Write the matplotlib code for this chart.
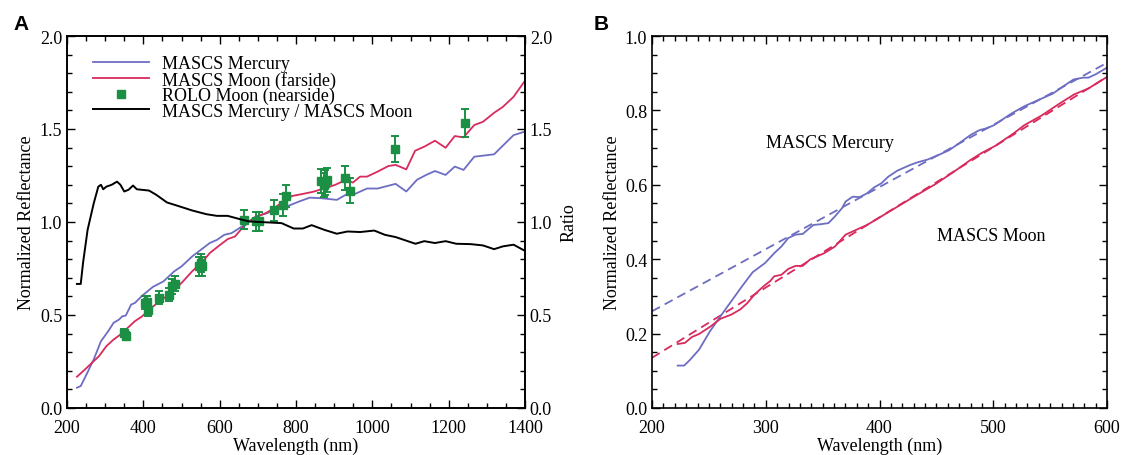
import numpy as np
import matplotlib
matplotlib.use("Agg")
import matplotlib.pyplot as plt
from matplotlib.ticker import MultipleLocator
from matplotlib.lines import Line2D

plt.rcParams['font.family'] = ['Liberation Serif', 'DejaVu Serif']
plt.rcParams['mathtext.fontset'] = 'stix'

# ---------------- Panel A data ----------------
ratio_wl = [226, 236, 242, 254, 270, 282, 289, 295, 303, 317, 331, 340, 350, 361, 373, 383,
            415, 434, 462, 490, 528, 565, 593, 621, 659, 677, 734, 762, 794, 818, 841, 874,
            907, 935, 968, 1005, 1033, 1061, 1113, 1136, 1164, 1192, 1220, 1258, 1290, 1319,
            1342, 1370, 1398]
ratio_val = [0.667, 0.667, 0.78, 0.958, 1.10, 1.19, 1.20, 1.176, 1.19, 1.20, 1.217, 1.20, 1.164,
             1.173, 1.196, 1.176, 1.169, 1.146, 1.105, 1.087, 1.062, 1.042, 1.033, 1.033, 1.012,
             1.003, 0.997, 0.994, 0.965, 0.965, 0.983, 0.958, 0.937, 0.949, 0.946, 0.954, 0.931,
             0.919, 0.883, 0.897, 0.887, 0.897, 0.883, 0.881, 0.874, 0.854, 0.869, 0.878, 0.847]

merc_wl = [226, 236, 251, 270, 289, 308, 322, 336, 345, 354, 368, 378, 397, 425, 453, 481, 500,
           528, 551, 574, 593, 612, 631, 645, 668, 696, 724, 748, 780, 808, 836, 865, 907, 930,
           949, 986, 1014, 1061, 1089, 1117, 1141, 1164, 1192, 1216, 1239, 1267, 1319, 1370, 1398]
merc_val = [0.109, 0.118, 0.18, 0.261, 0.359, 0.413, 0.458, 0.475, 0.493, 0.497, 0.556, 0.565,
            0.604, 0.651, 0.681, 0.735, 0.761, 0.815, 0.851, 0.887, 0.904, 0.931, 0.940, 0.958,
            0.990, 1.030, 1.047, 1.074, 1.087, 1.110, 1.131, 1.128, 1.119, 1.146, 1.146, 1.180,
            1.180, 1.205, 1.164, 1.227, 1.253, 1.274, 1.253, 1.298, 1.280, 1.351, 1.364, 1.467,
            1.485]

moon_wl = [226, 247, 270, 284, 303, 322, 340, 359, 378, 397, 415, 443, 472, 500, 528, 556, 574,
           598, 621, 640, 659, 677, 696, 720, 743, 771, 790, 818, 846, 874, 902, 930, 949, 968,
           986, 1014, 1042, 1061, 1089, 1112, 1136, 1164, 1192, 1216, 1239, 1267, 1290, 1319,
           1342, 1370, 1398]
moon_val = [0.168, 0.207, 0.252, 0.279, 0.332, 0.368, 0.395, 0.431, 0.467, 0.493, 0.529, 0.574,
            0.618, 0.672, 0.735, 0.788, 0.833, 0.872, 0.908, 0.922, 0.967, 1.003, 1.030, 1.047,
            1.074, 1.119, 1.140, 1.151, 1.163, 1.181, 1.199, 1.226, 1.212, 1.244, 1.244, 1.271,
            1.301, 1.307, 1.283, 1.383, 1.405, 1.437, 1.399, 1.462, 1.455, 1.521, 1.539, 1.587,
            1.619, 1.673, 1.754]

rolo_wl = [350, 355, 404, 410, 413, 441, 467, 475, 484, 546, 551, 554, 664, 694, 703, 743, 765,
           774, 866, 874, 877, 881, 928, 941, 1060, 1242]
rolo_val = [0.404, 0.386, 0.565, 0.568, 0.529, 0.592, 0.610, 0.654, 0.668, 0.761, 0.779, 0.761,
            1.012, 1.003, 1.003, 1.062, 1.092, 1.140, 1.221, 1.199, 1.212, 1.226, 1.235, 1.169,
            1.392, 1.534]
rolo_err = [0.02, 0.02, 0.035, 0.035, 0.035, 0.035, 0.035, 0.04, 0.04, 0.05, 0.05, 0.05,
            0.05, 0.05, 0.05, 0.055, 0.06, 0.06, 0.065, 0.065, 0.065, 0.065, 0.065, 0.065,
            0.07, 0.075]

# ---------------- Panel B data ----------------
bmerc_wl = [222.6, 228.3, 233.6, 241.4, 250.9, 260.3, 269.7, 279.1, 288.5, 299.5, 307.4, 313.7,
            319.9, 326.2, 332.5, 341.9, 348.2, 355.1, 360.8, 367.0, 370.2, 376.4, 382.7, 389.0,
            395.3, 401.6, 407.8, 415.7, 426.7, 433.0, 442.4, 451.8, 461.2, 470.6, 480.1, 487.9,
            494.2, 500.5, 508.3, 516.2, 527.2, 539.7, 552.3, 561.7, 570.5, 578.9, 583.7, 590.0,
            600.0]
bmerc_val = [0.114, 0.114, 0.130, 0.157, 0.206, 0.247, 0.287, 0.327, 0.365, 0.390, 0.416, 0.434,
             0.457, 0.466, 0.468, 0.492, 0.494, 0.497, 0.515, 0.537, 0.555, 0.568, 0.567, 0.577,
             0.593, 0.604, 0.622, 0.638, 0.653, 0.660, 0.668, 0.680, 0.693, 0.713, 0.734, 0.747,
             0.752, 0.760, 0.776, 0.792, 0.811, 0.828, 0.845, 0.865, 0.883, 0.888, 0.888, 0.897,
             0.915]
bmoon_wl = [222.6, 228.9, 235.2, 241.4, 250.9, 260.3, 269.7, 277.6, 283.8, 290.1, 298.0, 304.2,
            307.4, 313.7, 319.9, 326.2, 332.5, 338.8, 351.3, 360.8, 370.2, 379.6, 389.0, 401.6,
            417.3, 433.0, 448.7, 464.4, 480.1, 489.5, 502.0, 517.8, 527.2, 542.9, 558.6, 571.1,
            583.7, 600.0]
bmoon_val = [0.172, 0.175, 0.191, 0.199, 0.218, 0.240, 0.251, 0.265, 0.282, 0.305, 0.327, 0.342,
             0.354, 0.358, 0.374, 0.382, 0.382, 0.399, 0.416, 0.434, 0.466, 0.479, 0.492, 0.515,
             0.544, 0.573, 0.601, 0.633, 0.667, 0.685, 0.705, 0.738, 0.760, 0.787, 0.819, 0.843,
             0.859, 0.890]
fit_wl = [200, 600]
merc_fit = [0.260, 0.928]
moon_fit = [0.135, 0.890]

BLUE = '#6d6dc2'
RED = '#d82a5c'
GREEN = '#1b8f44'
FS = 13

fig = plt.figure(figsize=(11.23, 4.56), dpi=100)

# ---------- Panel A ----------
axA = fig.add_axes([67/1123, 47/456, 458/1123, 372/456])
axA.plot(merc_wl, merc_val, color=BLUE, lw=1.3)
axA.plot(moon_wl, moon_val, color=RED, lw=1.3)
axA.errorbar(rolo_wl, rolo_val, yerr=rolo_err, fmt='s', color=GREEN, ms=5.5,
             elinewidth=1.4, capsize=3, capthick=1.4, zorder=5)
axA.set_xlim(200, 1400)
axA.set_ylim(0, 2.0)
axA.xaxis.set_major_locator(MultipleLocator(200))
axA.xaxis.set_minor_locator(MultipleLocator(50))
axA.yaxis.set_minor_locator(MultipleLocator(0.1))
axA.set_yticks([0, 0.5, 1.0, 1.5, 2.0])
axA.set_yticklabels(['0.0', '0.5', '1.0', '1.5', '2.0'])
axA.tick_params(which='both', direction='in', top=True, right=False, labelsize=FS, width=1.0)
axA.tick_params(which='major', length=6)
axA.tick_params(which='minor', length=3.5)
axA.tick_params(axis='x', pad=8)
axA.set_xlabel('Wavelength (nm)', fontsize=FS, labelpad=0.5)
axA.set_ylabel('Normalized Reflectance', fontsize=FS, labelpad=3)

axA2 = axA.twinx()
axA2.plot(ratio_wl, ratio_val, color='black', lw=1.4)
axA2.set_ylim(0, 2.0)
axA2.set_yticks([0, 0.5, 1.0, 1.5, 2.0])
axA2.set_yticklabels(['0.0', '0.5', '1.0', '1.5', '2.0'])
axA2.yaxis.set_minor_locator(MultipleLocator(0.1))
axA2.tick_params(which='both', direction='in', labelsize=FS, width=1.0)
axA2.tick_params(which='major', length=6)
axA2.tick_params(which='minor', length=3.5)
axA2.set_ylabel('Ratio', fontsize=FS, rotation=90, labelpad=6)
for ax in (axA, axA2):
    for s in ax.spines.values():
        s.set_linewidth(1.2)

handles = [Line2D([], [], color=BLUE, lw=1.3),
           Line2D([], [], color=RED, lw=1.3),
           Line2D([], [], color=GREEN, marker='s', ls='none', ms=5.5),
           Line2D([], [], color='black', lw=1.4)]
labels = ['MASCS Mercury', 'MASCS Moon (farside)', 'ROLO Moon (nearside)',
          'MASCS Mercury / MASCS Moon']
axA2.legend(handles, labels, loc='upper left', bbox_to_anchor=(0.03, 0.982), frameon=False,
            fontsize=FS, handlelength=3.1, handletextpad=0.7, labelspacing=-0.09,
            borderpad=0.2)

fig.text(13/1123, 1 - 30/456, 'A', family='Liberation Sans', weight='bold', fontsize=15,
         ha='left', va='baseline')

# ---------- Panel B ----------
axB = fig.add_axes([652/1123, 47/456, 455/1123, 372/456])
axB.plot(fit_wl, merc_fit, color=BLUE, lw=1.3, ls=(0, (5, 3)))
axB.plot(fit_wl, moon_fit, color=RED, lw=1.3, ls=(0, (5, 3)))
axB.plot(bmerc_wl, bmerc_val, color=BLUE, lw=1.3)
axB.plot(bmoon_wl, bmoon_val, color=RED, lw=1.3)
axB.set_xlim(200, 600)
axB.set_ylim(0, 1.0)
axB.xaxis.set_major_locator(MultipleLocator(100))
axB.xaxis.set_minor_locator(MultipleLocator(10))
axB.set_yticks([0, 0.2, 0.4, 0.6, 0.8, 1.0])
axB.set_yticklabels(['0.0', '0.2', '0.4', '0.6', '0.8', '1.0'])
axB.yaxis.set_minor_locator(MultipleLocator(0.05))
axB.tick_params(which='both', direction='in', top=True, right=True, labelsize=FS, width=1.0)
axB.tick_params(which='major', length=6)
axB.tick_params(which='minor', length=3.5)
axB.tick_params(axis='x', pad=8)
axB.set_xlabel('Wavelength (nm)', fontsize=FS, labelpad=0.5)
axB.set_ylabel('Normalized Reflectance', fontsize=FS, labelpad=3)
for s in axB.spines.values():
    s.set_linewidth(1.2)
axB.text(300.5, 0.713, 'MASCS Mercury', fontsize=FS, ha='left', va='center')
axB.text(450.2, 0.465, 'MASCS Moon', fontsize=FS, ha='left', va='center')

fig.text(594/1123, 1 - 30/456, 'B', family='Liberation Sans', weight='bold', fontsize=15,
         ha='left', va='baseline')

fig.savefig('out.png', dpi=100)
